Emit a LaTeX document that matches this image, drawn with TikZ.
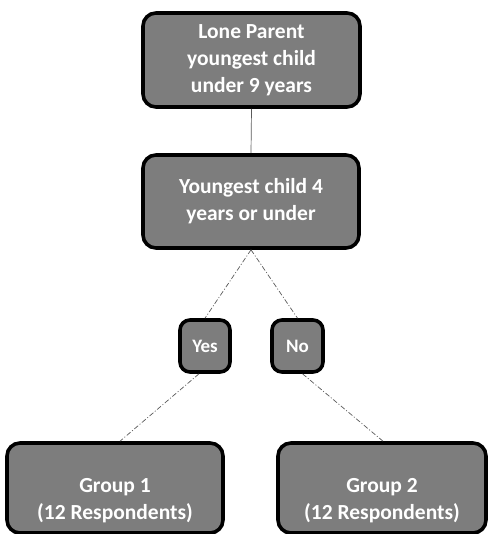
\documentclass[tikz,border=0pt]{standalone}
\usepackage{fontspec}
\setmainfont{Carlito}
\begin{document}
\begin{tikzpicture}[x=1pt,y=-1pt,
  boxfill/.style={fill={rgb,255:red,125;green,125;blue,125}},
  flowbox/.style={boxfill, draw=black, line width=3.6pt, rounded corners=13pt,
    text=white, align=center, inner sep=0pt,
    font=\bfseries\fontsize{21.5}{27}\selectfont},
  smallbox/.style={boxfill, draw=black, line width=3.6pt, rounded corners=10pt,
    text=white, align=center, inner sep=0pt,
    font=\bfseries\fontsize{19}{22}\selectfont},
  link/.style={draw={rgb,255:red,90;green,90;blue,90}, line width=0.7pt},
  branch/.style={link, dash pattern=on 5pt off 2pt on 1pt off 2pt}]
\useasboundingbox (0,0) rectangle (487,534);

\node[flowbox, minimum width=217pt, minimum height=94pt] (top) at (251.5,60)
  {Lone Parent\\youngest child\\under 9 years};
\node[flowbox, minimum width=216pt, minimum height=93pt] (mid) at (251,201.5)
  {Youngest child 4\\years or under};
\node[smallbox, minimum width=50pt, minimum height=52pt] (yes) at (205,346) {Yes};
\node[smallbox, minimum width=51pt, minimum height=52pt] (no) at (297.5,346) {No};
\node[flowbox, minimum width=216pt, minimum height=90pt, text depth=0pt] (g1) at (115,488)
  {\raisebox{-8pt}{\parbox{210pt}{\centering Group 1\\(12 Respondents)}}};
\node[flowbox, minimum width=208pt, minimum height=90pt, text depth=0pt] (g2) at (382,488)
  {\raisebox{-8pt}{\parbox{200pt}{\centering Group 2\\(12 Respondents)}}};

\draw[link] (top.south) -- (mid.south |- mid.north);
\draw[branch] (mid.south) -- (yes.north);
\draw[branch] (mid.south) -- (no.north);
\draw[branch] ([xshift=-6pt]yes.south) -- ([xshift=5pt]g1.north);
\draw[branch] ([xshift=5pt]no.south) -- ([xshift=1pt]g2.north);
\end{tikzpicture}
\end{document}
